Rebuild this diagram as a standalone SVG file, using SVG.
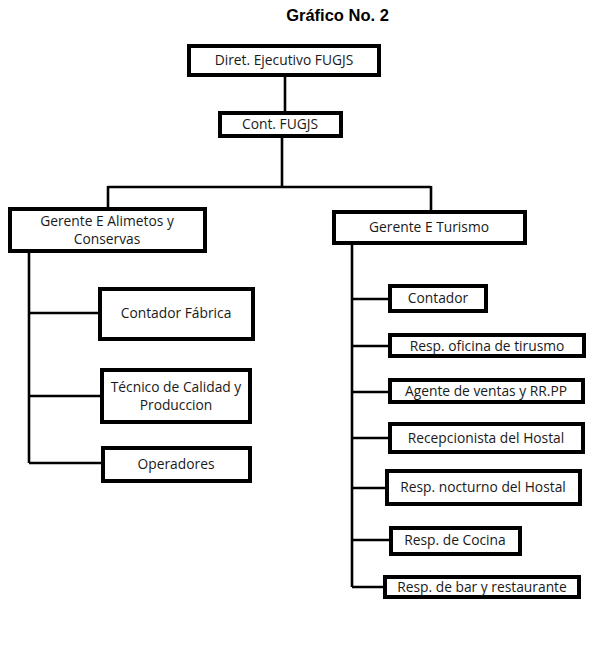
<svg xmlns="http://www.w3.org/2000/svg" width="593" height="661" viewBox="0 0 593 661">
<style>
.box{fill:#fff;stroke:#000;stroke-width:4}
.t{font-family:"Open Sans","Liberation Sans",Arial,sans-serif;font-size:13.8px;fill:#1a1a1a;text-anchor:middle}
.c{stroke:#000;stroke-width:2.6;fill:none}
.title{font-family:"Liberation Sans",Arial,sans-serif;font-size:16.5px;font-weight:bold;text-anchor:middle;fill:#000}
</style>
<rect width="593" height="661" fill="#fff"/>
<text class="title" x="337.5" y="21">Gráfico No. 2</text>
<g id="connectors">
<path class="c" d="M285 76V112M282 137V187M108 187H431M108 186V208M431 186V211"/>
<path class="c" d="M29 252V463M29 313H99M29 396H101M29 463H102"/>
<path class="c" d="M352 244V587M352 299H389M352 346H389M352 392H389M352 438H389M352 488H386M352 540H390M352 587H384"/>
</g>
<g id="n1"><rect class="box" x="189" y="46" width="190" height="29"/><text class="t" x="284" y="65">Diret. Ejecutivo FUGJS</text></g>
<g id="n2"><rect class="box" x="220" y="113" width="121" height="23"/><text class="t" x="280" y="129">Cont. FUGJS</text></g>
<g id="n3"><rect class="box" x="10" y="209" width="195" height="42"/><text class="t" x="107" y="226">Gerente E Alimetos y</text><text class="t" x="107" y="244">Conservas</text></g>
<g id="n4"><rect class="box" x="334" y="212" width="191" height="31"/><text class="t" x="429" y="232">Gerente E Turismo</text></g>
<g id="n5"><rect class="box" x="100" y="289" width="153" height="50"/><text class="t" x="176" y="318">Contador Fábrica</text></g>
<g id="n6"><rect class="box" x="102" y="370" width="148" height="52"/><text class="t" x="176" y="392">Técnico de Calidad y</text><text class="t" x="176" y="410">Produccion</text></g>
<g id="n7"><rect class="box" x="103" y="448" width="147" height="33"/><text class="t" x="176" y="469">Operadores</text></g>
<g id="n8"><rect class="box" x="390" y="286" width="96" height="25"/><text class="t" x="438" y="303">Contador</text></g>
<g id="n9"><rect class="box" x="390" y="335" width="194" height="21"/><text class="t" x="487" y="351">Resp. oficina de tirusmo</text></g>
<g id="n10"><rect class="box" x="390" y="380" width="193" height="22"/><text class="t" x="486" y="396">Agente de ventas y RR.PP</text></g>
<g id="n11"><rect class="box" x="390" y="424" width="193" height="28"/><text class="t" x="486" y="443">Recepcionista del Hostal</text></g>
<g id="n12"><rect class="box" x="387" y="471" width="193" height="33"/><text class="t" x="483" y="492">Resp. nocturno del Hostal</text></g>
<g id="n13"><rect class="box" x="391" y="528" width="129" height="26"/><text class="t" x="455" y="545">Resp. de Cocina</text></g>
<g id="n14"><rect class="box" x="385" y="577" width="194" height="20"/><text class="t" x="482" y="592">Resp. de bar y restaurante</text></g>
</svg>
